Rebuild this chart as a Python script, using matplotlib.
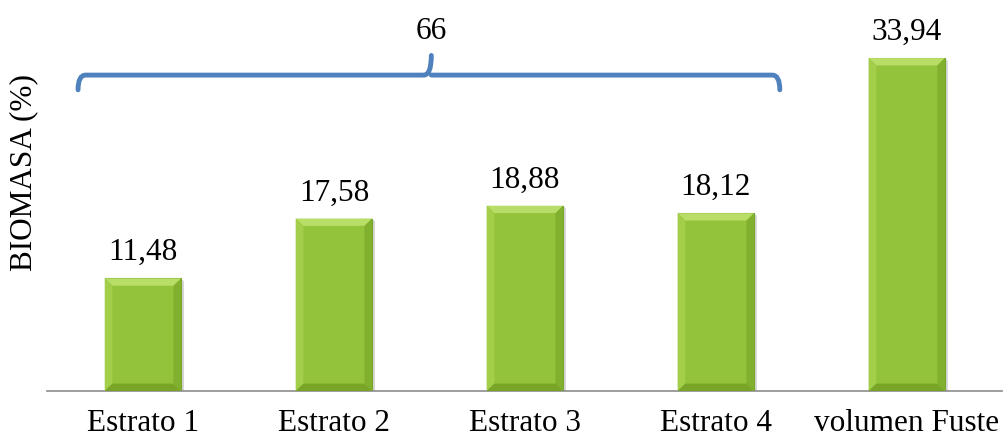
import matplotlib.pyplot as plt
from matplotlib.patches import Polygon, PathPatch
from matplotlib.path import Path

categorias = ["Estrato 1", "Estrato 2", "Estrato 3", "Estrato 4", "volumen Fuste"]
biomasa = [11.48, 17.58, 18.88, 18.12, 33.94]
total_estratos = 66

plt.rcParams["font.family"] = ["Liberation Serif", "DejaVu Serif"]

fig = plt.figure(figsize=(10.04, 4.41), dpi=100)
ax = fig.add_axes([0.0473, 0.1134, 0.951, 0.8676])

x = range(len(categorias))
bars = ax.bar(x, biomasa, width=0.4, color="#93c23b", edgecolor="#78a52a",
              linewidth=0.8, zorder=2)

# bevel effect on each bar
bx, by = 0.04, 0.75
for b in bars:
    x0, w, h = b.get_x(), b.get_width(), b.get_height()
    x1 = x0 + w
    faces = [
        ([(x0, h), (x1, h), (x1 - bx, h - by), (x0 + bx, h - by)], "#b9de68"),
        ([(x0, 0), (x0, h), (x0 + bx, h - by), (x0 + bx, by)], "#a3ce4a"),
        ([(x1, 0), (x1, h), (x1 - bx, h - by), (x1 - bx, by)], "#81b02e"),
        ([(x0, 0), (x1, 0), (x1 - bx, by), (x0 + bx, by)], "#78a428"),
    ]
    for pts, c in faces:
        ax.add_patch(Polygon(pts, closed=True, facecolor=c, edgecolor="none", zorder=3))
    # soft shadow
    ax.add_patch(Polygon([(x1, 0), (x1 + 0.015, 0), (x1 + 0.015, h - 0.3), (x1, h)],
                         closed=True, facecolor="#d6d6d6", edgecolor="none", zorder=1))
    ax.annotate(f"{h:.2f}".replace(".", ","), (b.get_x() + w / 2, h),
                xytext=(0, 8), textcoords="offset points",
                ha="center", va="bottom", fontsize=22.5)

# brace grouping the four strata
xl, xr, xm = -0.34, 3.335, 1.51
yb, yh, yt = 30.7, 32.2, 34.2
r = 0.04
verts = [(xl, yb), (xl, yh), (xl + r, yh),
         (xm - r, yh), (xm, yh), (xm, yt),
         (xm, yh), (xm + r, yh),
         (xr - r, yh), (xr, yh), (xr, yb)]
codes = [Path.MOVETO, Path.CURVE3, Path.CURVE3,
         Path.LINETO, Path.CURVE3, Path.CURVE3,
         Path.MOVETO, Path.LINETO,
         Path.LINETO, Path.CURVE3, Path.CURVE3]
ax.add_patch(PathPatch(Path(verts, codes), facecolor="none", edgecolor="#4f81bd",
                       linewidth=3.5, capstyle="round", clip_on=False, zorder=4))
ax.text(xm, 36.6, str(total_estratos), ha="center", va="center", fontsize=22.5)

ax.set_xlim(-0.5, 4.5)
ax.set_ylim(0, 39)
ax.set_xticks(list(x))
ax.set_xticklabels(categorias, fontsize=22.5)
ax.tick_params(axis="x", length=0, pad=13)
ax.set_yticks([])
ax.set_ylabel("BIOMASA (%)", fontsize=22.5)
ax.yaxis.set_label_coords(-0.0095, 0.572)
for s in ["top", "right", "left"]:
    ax.spines[s].set_visible(False)
ax.spines["bottom"].set_color("#8c8c8c")
ax.spines["bottom"].set_linewidth(1.2)

fig.savefig("out.png", dpi=100)
